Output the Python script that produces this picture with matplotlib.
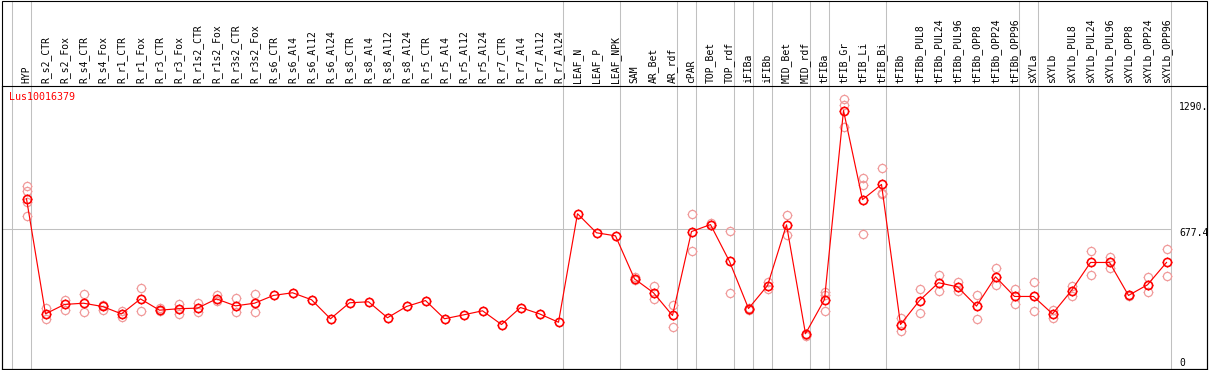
import matplotlib
matplotlib.use("Agg")
import matplotlib.pyplot as plt
from matplotlib.patches import Rectangle
from matplotlib.path import Path
from matplotlib.transforms import blended_transform_factory

# sample names, left to right
labels = ["HYP", "R_s2_CTR", "R_s2_Fox", "R_s4_CTR", "R_s4_Fox", "R_r1_CTR", "R_r1_Fox",
          "R_r3_CTR", "R_r3_Fox", "R_r1s2_CTR", "R_r1s2_Fox", "R_r3s2_CTR", "R_r3s2_Fox",
          "R_s6_CTR", "R_s6_Al4", "R_s6_Al12", "R_s6_Al24", "R_s8_CTR", "R_s8_Al4",
          "R_s8_Al12", "R_s8_Al24", "R_r5_CTR", "R_r5_Al4", "R_r5_Al12", "R_r5_Al24",
          "R_r7_CTR", "R_r7_Al4", "R_r7_Al12", "R_r7_Al24", "LEAF_N", "LEAF_P", "LEAF_NPK",
          "SAM", "AR_Bet", "AR_rdf", "cPAR", "TOP_Bet", "TOP_rdf", "iFIBa", "iFIBb",
          "MID_Bet", "MID_rdf", "tFIBa", "tFIB_Gr", "tFIB_Li", "tFIB_Bi", "tFIBb",
          "tFIBb_PUL8", "tFIBb_PUL24", "tFIBb_PUL96", "tFIBb_OPP8", "tFIBb_OPP24",
          "tFIBb_OPP96", "sXYLa", "sXYLb", "sXYLb_PUL8", "sXYLb_PUL24", "sXYLb_PUL96",
          "sXYLb_OPP8", "sXYLb_OPP24", "sXYLb_OPP96"]

# mean expression per sample
means = [824, 262, 308, 314, 298, 262, 335, 280, 287, 290, 335, 301, 314,
         352, 365, 331, 238, 316, 321, 243, 298, 327, 238, 257, 277, 210, 293, 262, 221,
         751, 658, 643, 433, 365, 254, 664, 698, 518, 288, 400, 697, 165, 332,
         1255, 820, 894, 210, 327, 414, 394, 300, 443, 347, 347, 262, 376, 513, 513,
         352, 404, 513]

# individual replicates (empty where only the mean is shown)
replicates = [[885, 864, 807, 741], [293, 236], [329, 280], [360, 270], [306, 283],
              [275, 246], [389, 277], [293, 275], [311, 262], [314, 273], [352, 327],
              [337, 270], [360, 270],
              [], [], [], [], [], [], [], [], [], [], [], [], [], [], [], [], [], [], [],
              [440, 428], [396, 335], [306, 199], [752, 570], [704, 694], [669, 365],
              [292, 282], [417, 384], [747, 645], [153, 160], [370, 354, 277],
              [1312, 1283, 1174], [925, 889, 650], [975, 853, 845], [243, 177],
              [384, 267], [453, 376], [417, 373], [352, 238], [488, 404], [381, 309],
              [418, 277], [283, 243], [397, 348], [571, 453], [539, 488], [355, 348],
              [440, 371], [581, 448]]

# samples after which a group separator is drawn (-1 = before the first)
group_ends = [-1, 0, 28, 31, 34, 35, 37, 38, 39, 41, 42, 45, 52, 53, 60]

gene = "Lus10016379"
y_marks = [1290, 677.4, 0]
y_mark_labels = ["1290.", "677.4", "0"]

W, H = 1209, 370
# pixel layout of the original chart
X0, STEP = 26.5, 19.0          # x pixel of first sample, spacing
Y0, PPU = 367.5, 0.20475       # y pixel of value 0, pixels per unit
TOP, BOT, LEFT, RIGHT = 85.5, 368.5, 1.5, 1206.5

RED = "#ff0000"
PINK = "#f09a9a"
GRID = "#c0c0c0"
mono = "DejaVu Sans Mono"

fig = plt.figure(figsize=(W / 100, H / 100), dpi=100)
ax = fig.add_axes([LEFT / W, (H - BOT) / H, (RIGHT - LEFT) / W, (BOT - TOP) / H])
ax.set_xlim((LEFT - X0) / STEP, (RIGHT - X0) / STEP)
ax.set_ylim((Y0 - BOT) / PPU, (Y0 - TOP) / PPU)
ax.set_xticks([])
ax.set_yticks([])
for s in ax.spines.values():
    s.set_linewidth(0.8)
    s.set_color("black")

# outer frame around labels + plot
fig.add_artist(Rectangle((LEFT / W, (H - BOT) / H), (RIGHT - LEFT) / W, (BOT - 0.5) / H,
                         transform=fig.transFigure, fill=False, lw=0.8, ec="black"))

# separators and reference line
top_ext = (BOT - 0.5) / (BOT - TOP)
for g in group_ends:
    ax.axvline(g + 4 / STEP, ymin=0, ymax=top_ext, color=GRID, lw=0.75, zorder=0,
               clip_on=False)
ax.hlines(677.4, (LEFT - X0) / STEP, group_ends[-1] + 4 / STEP, color=GRID, lw=0.75,
          zorder=0)

# custom marker: small nubs just outside the circle
nub = Path([(0, 1), (0, 1.25), (0, -1), (0, -1.25), (1, 0), (1.25, 0), (-1, 0), (-1.25, 0)],
           [Path.MOVETO, Path.LINETO] * 4)
circ = 5.9     # circle diameter in points
nubsize = circ * 1.25

xs = list(range(len(labels)))
rx = [i for i, r in enumerate(replicates) for _ in r]
ry = [v for r in replicates for v in r]
ax.plot(rx, ry, "o", ms=circ, mfc="none", mec=PINK, mew=0.9, zorder=2)
ax.plot(rx, ry, marker=nub, ls="none", ms=nubsize, mec=PINK, mew=0.6, zorder=2)

ax.plot(xs, means, "-", color=RED, lw=0.85, zorder=3)
ax.plot(xs, means, "o", ms=circ, mfc="none", mec=RED, mew=1.2, zorder=4)
ax.plot(xs, means, marker=nub, ls="none", ms=nubsize, mec=RED, mew=0.7, zorder=4)

# sample labels above plot
tr = blended_transform_factory(ax.transData, ax.transAxes)
lab_y = (BOT - 82.7) / (BOT - TOP)
for i, lab in enumerate(labels):
    ax.text(i, lab_y, lab, rotation=90, ha="center", va="bottom", transform=tr,
            family=mono, fontsize=7, clip_on=False)

ax.text((9.3 - X0) / STEP, (Y0 - 97) / PPU, gene, color=RED, family=mono, fontsize=7.2,
        ha="left", va="center")

# value marks on the right
rx0 = (1179 - X0) / STEP
for v, t in zip(y_marks, y_mark_labels):
    if v == 0:
        ax.text(rx0, v, t, ha="left", va="bottom", family=mono, fontsize=7)
    else:
        ax.text(rx0, v + 1 / PPU, t, ha="left", va="top", family=mono, fontsize=7)

fig.savefig("out.png", dpi=100)
